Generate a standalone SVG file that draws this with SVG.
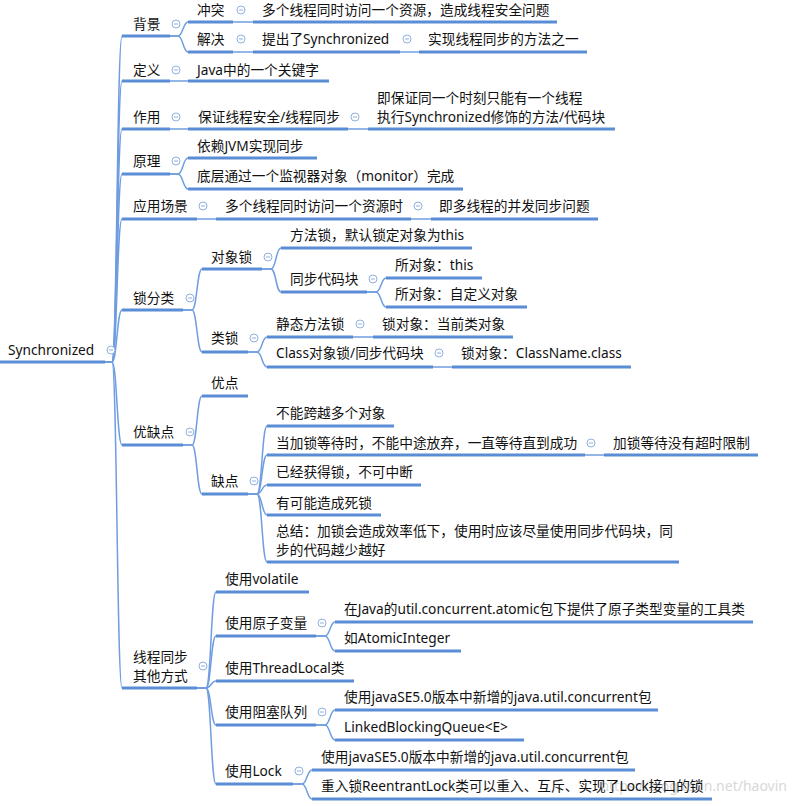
<svg xmlns="http://www.w3.org/2000/svg" width="795" height="806" viewBox="0 0 795 806">
<style>
text{font-family:"Noto Sans","Noto Sans CJK SC",sans-serif;font-size:13.7px;fill:#111}
.ul{stroke:#5a8dd6;stroke-width:3;fill:none}
.cn{stroke:#6f9de0;stroke-width:1.5;fill:none}
.ic{fill:#fff;stroke:#8fb0e0;stroke-width:1}
.im{stroke:#8fb0e0;stroke-width:1}
.wm{fill:#d8d8d8;font-size:14px}
</style>
<defs>
<g id="icon"><circle class="ic" r="4"/><line class="im" x1="-2" y1="0" x2="2" y2="0"/></g>
</defs>
<rect width="795" height="806" fill="#fff"/>
<text class="wm" x="787" y="791" text-anchor="end">https://blog.csdn.net/haovin</text>
<g id="connectors">
<path class="cn" d="M105 362 L112 362 C117 362 117 36 122 36"/>
<path class="cn" d="M105 362 L112 362 C117 362 117 81 122 81"/>
<path class="cn" d="M105 362 L112 362 C117 362 117 129 122 129"/>
<path class="cn" d="M105 362 L112 362 C117 362 117 174 122 174"/>
<path class="cn" d="M105 362 L112 362 C117 362 117 219 122 219"/>
<path class="cn" d="M105 362 L112 362 C117 362 117 310 122 310"/>
<path class="cn" d="M105 362 L112 362 C117 362 117 445 122 445"/>
<path class="cn" d="M105 362 L112 362 C117 362 117 688 122 688"/>
<path class="cn" d="M170 36 L178 36 C183 36 183 22 188 22"/>
<path class="cn" d="M170 36 L178 36 C183 36 183 52 188 52"/>
<path class="cn" d="M233 22 L253 22"/>
<path class="cn" d="M233 52 L253 52"/>
<path class="cn" d="M400 52 L419 52"/>
<path class="cn" d="M170 81 L188 81"/>
<path class="cn" d="M170 129 L188 129"/>
<path class="cn" d="M348 129 L368 129"/>
<path class="cn" d="M170 174 L178 174 C183 174 183 158 188 158"/>
<path class="cn" d="M170 174 L178 174 C183 174 183 189 188 189"/>
<path class="cn" d="M197 219 L216 219"/>
<path class="cn" d="M411 219 L431 219"/>
<path class="cn" d="M183 310 L192 310 C197 310 197 269 202 269"/>
<path class="cn" d="M183 310 L192 310 C197 310 197 352 202 352"/>
<path class="cn" d="M262 269 L271 269 C276 269 276 248 281 248"/>
<path class="cn" d="M262 269 L271 269 C276 269 276 292 281 292"/>
<path class="cn" d="M367 292 L376 292 C381 292 381 278 386 278"/>
<path class="cn" d="M367 292 L376 292 C381 292 381 307 386 307"/>
<path class="cn" d="M248 352 L257 352 C262 352 262 337 267 337"/>
<path class="cn" d="M248 352 L257 352 C262 352 262 367 267 367"/>
<path class="cn" d="M353 337 L373 337"/>
<path class="cn" d="M433 367 L452 367"/>
<path class="cn" d="M183 445 L192 445 C197 445 197 396 202 396"/>
<path class="cn" d="M183 445 L192 445 C197 445 197 494 202 494"/>
<path class="cn" d="M248 494 L257 494 C262 494 262 426 267 426"/>
<path class="cn" d="M248 494 L257 494 C262 494 262 455 267 455"/>
<path class="cn" d="M248 494 L257 494 C262 494 262 485 267 485"/>
<path class="cn" d="M248 494 L257 494 C262 494 262 515 267 515"/>
<path class="cn" d="M248 494 L257 494 C262 494 262 562 267 562"/>
<path class="cn" d="M585 455 L604 455"/>
<path class="cn" d="M197 688 L206 688 C211 688 211 592 216 592"/>
<path class="cn" d="M197 688 L206 688 C211 688 211 636 216 636"/>
<path class="cn" d="M197 688 L206 688 C211 688 211 681 216 681"/>
<path class="cn" d="M197 688 L206 688 C211 688 211 725 216 725"/>
<path class="cn" d="M197 688 L206 688 C211 688 211 784 216 784"/>
<path class="cn" d="M316 636 L325 636 C330 636 330 622 335 622"/>
<path class="cn" d="M316 636 L325 636 C330 636 330 651 335 651"/>
<path class="cn" d="M316 725 L325 725 C330 725 330 710 335 710"/>
<path class="cn" d="M316 725 L325 725 C330 725 330 740 335 740"/>
<path class="cn" d="M293 784 L302 784 C307 784 307 770 312 770"/>
<path class="cn" d="M293 784 L302 784 C307 784 307 799 312 799"/>
</g>

<g id="root"><text x="8" y="355">Synchronized</text><line class="ul" x1="0" y1="362" x2="105" y2="362"/><use href="#icon" x="111" y="350"/></g>

<g id="n-beijing"><text x="133" y="29">背景</text><line class="ul" x1="122" y1="36" x2="170" y2="36"/><use href="#icon" x="176" y="24"/></g>
<g id="n-chongtu"><text x="197" y="15">冲突</text><line class="ul" x1="188" y1="22" x2="233" y2="22"/><use href="#icon" x="241" y="10"/></g>
<g id="n-chongtu-1"><text x="262" y="15">多个线程同时访问一个资源，造成线程安全问题</text><line class="ul" x1="253" y1="22" x2="557" y2="22"/></g>
<g id="n-jiejue"><text x="197" y="44">解决</text><line class="ul" x1="188" y1="52" x2="233" y2="52"/><use href="#icon" x="241" y="39"/></g>
<g id="n-jiejue-1"><text x="262" y="44">提出了Synchronized</text><line class="ul" x1="253" y1="52" x2="400" y2="52"/><use href="#icon" x="407" y="39"/></g>
<g id="n-jiejue-2"><text x="428" y="44">实现线程同步的方法之一</text><line class="ul" x1="419" y1="52" x2="587" y2="52"/></g>

<g id="n-dingyi"><text x="133" y="75">定义</text><line class="ul" x1="122" y1="81" x2="170" y2="81"/><use href="#icon" x="176" y="70"/></g>
<g id="n-dingyi-1"><text x="197" y="75">Java中的一个关键字</text><line class="ul" x1="188" y1="81" x2="329" y2="81"/></g>

<g id="n-zuoyong"><text x="133" y="122">作用</text><line class="ul" x1="122" y1="129" x2="170" y2="129"/><use href="#icon" x="176" y="117"/></g>
<g id="n-zuoyong-1"><text x="198" y="122">保证线程安全/线程同步</text><line class="ul" x1="188" y1="129" x2="348" y2="129"/><use href="#icon" x="355" y="117"/></g>
<g id="n-zuoyong-2"><text x="377" y="103">即保证同一个时刻只能有一个线程<tspan x="377" y="122">执行Synchronized修饰的方法/代码块</tspan></text><line class="ul" x1="368" y1="129" x2="615" y2="129"/></g>

<g id="n-yuanli"><text x="133" y="166">原理</text><line class="ul" x1="122" y1="174" x2="170" y2="174"/><use href="#icon" x="176" y="161"/></g>
<g id="n-yuanli-1"><text x="197" y="151">依赖JVM实现同步</text><line class="ul" x1="188" y1="158" x2="317" y2="158"/></g>
<g id="n-yuanli-2"><text x="197" y="181">底层通过一个监视器对象（monitor）完成</text><line class="ul" x1="188" y1="189" x2="463" y2="189"/></g>

<g id="n-changjing"><text x="133" y="211">应用场景</text><line class="ul" x1="122" y1="219" x2="197" y2="219"/><use href="#icon" x="203" y="206"/></g>
<g id="n-changjing-1"><text x="225" y="211">多个线程同时访问一个资源时</text><line class="ul" x1="216" y1="219" x2="411" y2="219"/><use href="#icon" x="418" y="206"/></g>
<g id="n-changjing-2"><text x="439" y="211">即多线程的并发同步问题</text><line class="ul" x1="431" y1="219" x2="598" y2="219"/></g>

<g id="n-suofenlei"><text x="133" y="303">锁分类</text><line class="ul" x1="122" y1="310" x2="183" y2="310"/><use href="#icon" x="190" y="298"/></g>
<g id="n-duixiangsuo"><text x="211" y="262">对象锁</text><line class="ul" x1="202" y1="269" x2="262" y2="269"/><use href="#icon" x="268" y="257"/></g>
<g id="n-fangfasuo"><text x="290" y="240">方法锁，默认锁定对象为this</text><line class="ul" x1="281" y1="248" x2="472" y2="248"/></g>
<g id="n-tongbudaima"><text x="290" y="284">同步代码块</text><line class="ul" x1="281" y1="292" x2="367" y2="292"/><use href="#icon" x="373" y="279"/></g>
<g id="n-suo-this"><text x="395" y="270">所对象：this</text><line class="ul" x1="386" y1="278" x2="482" y2="278"/></g>
<g id="n-suo-zidingyi"><text x="395" y="299">所对象：自定义对象</text><line class="ul" x1="386" y1="307" x2="527" y2="307"/></g>
<g id="n-leisuo"><text x="211" y="343">类锁</text><line class="ul" x1="202" y1="352" x2="248" y2="352"/><use href="#icon" x="254" y="338"/></g>
<g id="n-jingtai"><text x="276" y="329">静态方法锁</text><line class="ul" x1="267" y1="337" x2="353" y2="337"/><use href="#icon" x="360" y="324"/></g>
<g id="n-jingtai-1"><text x="382" y="329">锁对象：当前类对象</text><line class="ul" x1="373" y1="337" x2="513" y2="337"/></g>
<g id="n-class"><text x="276" y="358">Class对象锁/同步代码块</text><line class="ul" x1="267" y1="367" x2="433" y2="367"/><use href="#icon" x="439" y="353"/></g>
<g id="n-class-1"><text x="461" y="358">锁对象：ClassName.class</text><line class="ul" x1="452" y1="367" x2="631" y2="367"/></g>

<g id="n-youquedian"><text x="133" y="437">优缺点</text><line class="ul" x1="122" y1="445" x2="183" y2="445"/><use href="#icon" x="190" y="432"/></g>
<g id="n-youdian"><text x="211" y="388">优点</text><line class="ul" x1="202" y1="396" x2="248" y2="396"/></g>
<g id="n-quedian"><text x="211" y="486">缺点</text><line class="ul" x1="202" y1="494" x2="248" y2="494"/><use href="#icon" x="254" y="481"/></g>
<g id="n-qd-1"><text x="276" y="418">不能跨越多个对象</text><line class="ul" x1="267" y1="426" x2="394" y2="426"/></g>
<g id="n-qd-2"><text x="276" y="448">当加锁等待时，不能中途放弃，一直等待直到成功</text><line class="ul" x1="267" y1="455" x2="585" y2="455"/><use href="#icon" x="591" y="443"/></g>
<g id="n-qd-2-1"><text x="613" y="448">加锁等待没有超时限制</text><line class="ul" x1="604" y1="455" x2="758" y2="455"/></g>
<g id="n-qd-3"><text x="276" y="477">已经获得锁，不可中断</text><line class="ul" x1="267" y1="485" x2="421" y2="485"/></g>
<g id="n-qd-4"><text x="276" y="508">有可能造成死锁</text><line class="ul" x1="267" y1="515" x2="381" y2="515"/></g>
<g id="n-qd-5"><text x="276" y="536">总结：加锁会造成效率低下，使用时应该尽量使用同步代码块，同<tspan x="276" y="555">步的代码越少越好</tspan></text><line class="ul" x1="267" y1="562" x2="679" y2="562"/></g>

<g id="n-qita"><text x="133" y="662">线程同步<tspan x="133" y="681">其他方式</tspan></text><line class="ul" x1="122" y1="688" x2="197" y2="688"/><use href="#icon" x="203" y="666"/></g>
<g id="n-volatile"><text x="225" y="584">使用volatile</text><line class="ul" x1="216" y1="592" x2="309" y2="592"/></g>
<g id="n-yuanzi"><text x="225" y="628">使用原子变量</text><line class="ul" x1="216" y1="636" x2="316" y2="636"/><use href="#icon" x="322" y="623"/></g>
<g id="n-yuanzi-1"><text x="344" y="614">在Java的util.concurrent.atomic包下提供了原子类型变量的工具类</text><line class="ul" x1="335" y1="622" x2="753" y2="622"/></g>
<g id="n-yuanzi-2"><text x="344" y="643">如AtomicInteger</text><line class="ul" x1="335" y1="651" x2="461" y2="651"/></g>
<g id="n-threadlocal"><text x="225" y="673">使用ThreadLocal类</text><line class="ul" x1="216" y1="681" x2="354" y2="681"/></g>
<g id="n-zuse"><text x="225" y="717">使用阻塞队列</text><line class="ul" x1="216" y1="725" x2="316" y2="725"/><use href="#icon" x="322" y="712"/></g>
<g id="n-zuse-1"><text x="344" y="702">使用javaSE5.0版本中新增的java.util.concurrent包</text><line class="ul" x1="335" y1="710" x2="658" y2="710"/></g>
<g id="n-zuse-2"><text x="344" y="732">LinkedBlockingQueue&lt;E&gt;</text><line class="ul" x1="335" y1="740" x2="524" y2="740"/></g>
<g id="n-lock"><text x="225" y="776">使用Lock</text><line class="ul" x1="216" y1="784" x2="293" y2="784"/><use href="#icon" x="299" y="771"/></g>
<g id="n-lock-1"><text x="321" y="762">使用javaSE5.0版本中新增的java.util.concurrent包</text><line class="ul" x1="312" y1="770" x2="635" y2="770"/></g>
<g id="n-lock-2"><text x="321" y="791">重入锁ReentrantLock类可以重入、互斥、实现了Lock接口的锁</text><line class="ul" x1="312" y1="799" x2="712" y2="799"/></g>
</svg>
